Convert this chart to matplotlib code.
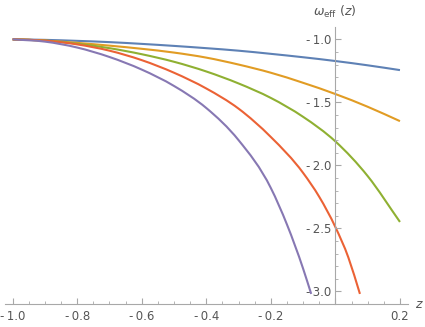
import numpy as np
import matplotlib
matplotlib.use('Agg')
import matplotlib.pyplot as plt
from matplotlib.path import Path
from matplotlib.patches import PathPatch
from matplotlib.ticker import MultipleLocator, FuncFormatter

# values
z_grid = [-1.0, -0.9, -0.8, -0.7, -0.6, -0.5, -0.4, -0.3, -0.2, -0.1, 0.0, 0.1, 0.2]
w_blue = [-1.0, -1.004, -1.012, -1.022, -1.036, -1.052, -1.07, -1.09, -1.115, -1.142, -1.172, -1.206, -1.244]
w_orange = [-1.0, -1.01, -1.028, -1.05, -1.075, -1.105, -1.145, -1.2, -1.265, -1.345, -1.434, -1.535, -1.649]
w_green = [-1.0, -1.01, -1.035, -1.07, -1.118, -1.178, -1.255, -1.35, -1.465, -1.615, -1.81, -2.085, -2.449]

z_red = [-1.0, -0.9, -0.8, -0.7, -0.6, -0.5, -0.4, -0.3, -0.2, -0.1, -0.05, 0.0, 0.04, 0.076]
w_red = [-1.0, -1.01, -1.04, -1.09, -1.165, -1.265, -1.39, -1.55, -1.775, -2.06, -2.25, -2.49, -2.73, -3.02]

z_purple = [-1.0, -0.9, -0.8, -0.7, -0.6, -0.5, -0.4, -0.3, -0.2, -0.15, -0.1, -0.075]
w_purple = [-1.0, -1.018, -1.065, -1.14, -1.24, -1.37, -1.545, -1.80, -2.18, -2.47, -2.82, -3.02]

colors = ['#5E81B5', '#E19C24', '#8FB032', '#EB6235', '#8778B3']


def smooth_line(ax, xs, ys, color):
    # cubic hermite through the read points, drawn as bezier segments
    x = np.asarray(xs, float)
    y = np.asarray(ys, float)
    h = np.diff(x)
    d = np.diff(y) / h
    m = np.empty_like(y)
    m[0] = d[0]
    m[-1] = d[-1]
    for i in range(1, len(x) - 1):
        m[i] = (h[i - 1] * d[i] + h[i] * d[i - 1]) / (h[i - 1] + h[i])
    verts = [(x[0], y[0])]
    codes = [Path.MOVETO]
    for i in range(len(x) - 1):
        verts += [(x[i] + h[i] / 3, y[i] + m[i] * h[i] / 3),
                  (x[i + 1] - h[i] / 3, y[i + 1] - m[i + 1] * h[i] / 3),
                  (x[i + 1], y[i + 1])]
        codes += [Path.CURVE4] * 3
    ax.add_patch(PathPatch(Path(verts, codes), fill=False, edgecolor=color,
                           lw=1.5, capstyle='butt', joinstyle='round'))


fig = plt.figure(figsize=(4.25, 3.27), dpi=100)
ax = fig.add_axes([5/425, 1-304/327, 403/425, 277/327])

smooth_line(ax, z_grid, w_blue, colors[0])
smooth_line(ax, z_grid, w_orange, colors[1])
smooth_line(ax, z_grid, w_green, colors[2])
smooth_line(ax, z_red, w_red, colors[3])
smooth_line(ax, z_purple, w_purple, colors[4])

ax.set_xlim(-1.0237, 0.2249)
ax.set_ylim(-3.10, -0.902)

gray = '#a8a8a8'
for s in ['top', 'right']:
    ax.spines[s].set_visible(False)
ax.spines['left'].set_position(('data', 0))
ax.spines['left'].set_color(gray)
ax.spines['bottom'].set_color(gray)

ax.xaxis.set_major_locator(MultipleLocator(0.2))
ax.xaxis.set_minor_locator(MultipleLocator(0.05))
ax.yaxis.set_major_locator(MultipleLocator(0.5))
ax.yaxis.set_minor_locator(MultipleLocator(0.1))

fmt = FuncFormatter(lambda v, p: '' if abs(v) < 1e-9 else ('-\u2009' + '%.1f' % abs(v) if v < 0 else '%.1f' % v))
ax.xaxis.set_major_formatter(fmt)
ax.yaxis.set_major_formatter(fmt)

ax.tick_params(which='both', direction='in', color=gray, labelcolor='#555555', labelsize=8.5)
ax.tick_params(which='major', length=4.5, width=0.8)
ax.tick_params(which='minor', length=2.5, width=0.6)
ax.tick_params(axis='x', pad=4)
ax.tick_params(axis='y', pad=3)

fig.text(335/425, 1-12/327, r'$\omega_{\mathrm{eff}}\ (z)$', color='#555555', fontsize=9, ha='center', va='center')
fig.text(419/425, 1-304/327, r'$z$', color='#555555', fontsize=9, ha='center', va='center')

fig.savefig('out.png', dpi=100)
